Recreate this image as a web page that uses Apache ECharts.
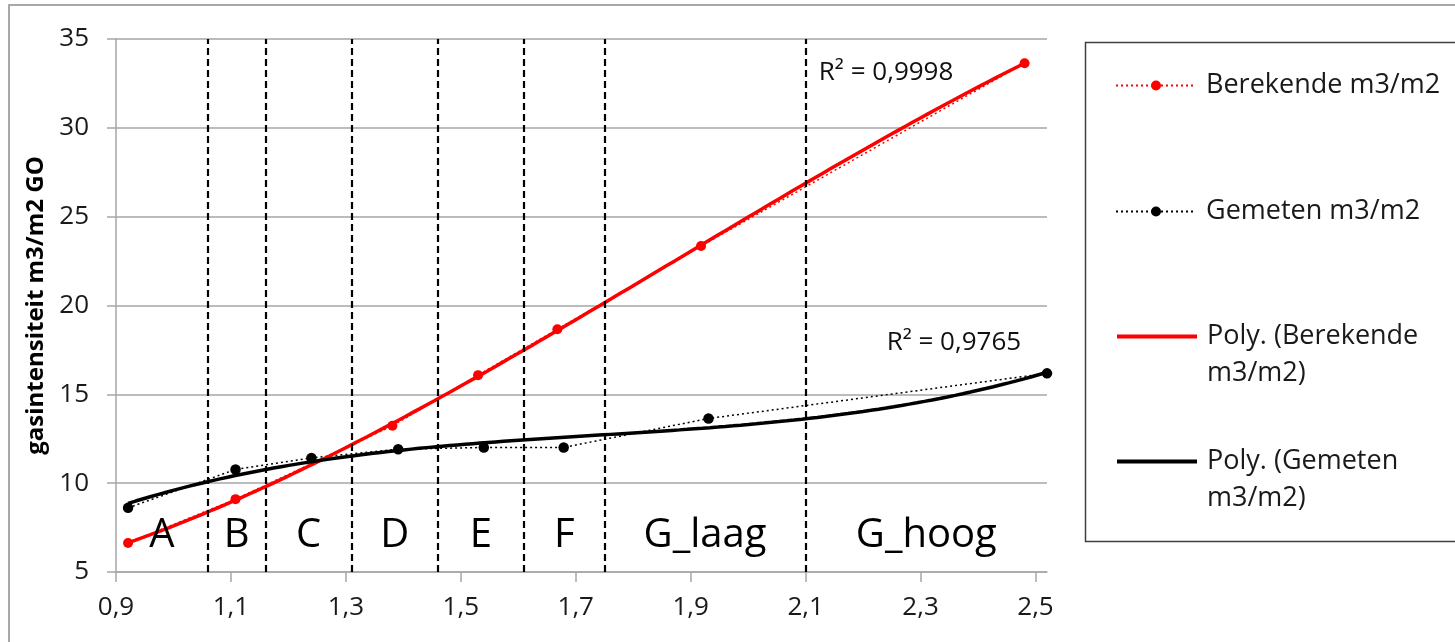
<!DOCTYPE html>
<html><head><meta charset="utf-8">
<script src="https://cdn.jsdelivr.net/npm/echarts@6/dist/echarts.min.js"></script>
<style>html,body{margin:0;padding:0;background:#fff}#c{width:1455px;height:642px}</style>
</head><body><div id="c"></div>
<script>
// ---- data ----
const berekendeX = [0.921, 1.108, 1.381, 1.530, 1.668, 1.918, 2.481];
const berekendeY = [6.63, 9.10, 13.23, 16.08, 18.66, 23.35, 33.64];
const gemetenX = [0.921, 1.108, 1.240, 1.391, 1.540, 1.679, 1.931, 2.520];
const gemetenY = [8.61, 10.77, 11.42, 11.91, 12.01, 12.01, 13.64, 16.18];
const zoneBounds = [1.06, 1.16, 1.31, 1.46, 1.61, 1.75, 2.10];
const zoneNames = ['A', 'B', 'C', 'D', 'E', 'F', 'G_laag', 'G_hoog'];
const xTicks = [0.9, 1.1, 1.3, 1.5, 1.7, 1.9, 2.1, 2.3, 2.5];
const r2Texts = ['R\u00b2 = 0,9998', 'R\u00b2 = 0,9765'];
const seriesNames = ['Berekende m3/m2', 'Gemeten m3/m2', 'Poly. (Berekende m3/m2)', 'Poly. (Gemeten m3/m2)'];
const yAxisTitle = 'gasintensiteit m3/m2 GO';
const xMin = 0.9, xMax = 2.52, yMin = 5, yMax = 35, yStep = 5;
const polyOrder = [3, 3];
// annotation anchors (data coordinates)
const r2AnchorX = [2.24, 2.358];
const r2AnchorY = [33.1, 17.89];
const zoneLabelY = 7.07;

// ---- polynomial trendline (least squares, like Excel "Poly.") ----
function polyfit(xs, ys, order) {
  const n = order + 1;
  const A = [], b = [];
  for (let i = 0; i < n; i++) {
    A.push([]);
    for (let j = 0; j < n; j++) {
      let s = 0; xs.forEach(x => s += Math.pow(x, i + j)); A[i].push(s);
    }
    let t = 0; xs.forEach((x, k) => t += Math.pow(x, i) * ys[k]); b.push(t);
  }
  for (let c = 0; c < n; c++) {
    let p = c;
    for (let r = c + 1; r < n; r++) if (Math.abs(A[r][c]) > Math.abs(A[p][c])) p = r;
    [A[c], A[p]] = [A[p], A[c]]; [b[c], b[p]] = [b[p], b[c]];
    for (let r = c + 1; r < n; r++) {
      const f = A[r][c] / A[c][c];
      for (let k = c; k < n; k++) A[r][k] -= f * A[c][k];
      b[r] -= f * b[c];
    }
  }
  const coef = new Array(n).fill(0);
  for (let r = n - 1; r >= 0; r--) {
    let s = b[r];
    for (let k = r + 1; k < n; k++) s -= A[r][k] * coef[k];
    coef[r] = s / A[r][r];
  }
  return coef;
}
function trend(xs, ys, order) {
  const c = polyfit(xs, ys, order);
  const x0 = Math.min(...xs), x1 = Math.max(...xs), out = [];
  for (let i = 0; i <= 120; i++) {
    const x = x0 + (x1 - x0) * i / 120;
    let y = 0; c.forEach((v, k) => y += v * Math.pow(x, k));
    out.push([x, y]);
  }
  return out;
}

const FONT = 'Open Sans';
const zip = (a, b) => a.map((v, i) => [v, b[i]]);
const allBounds = [xMin].concat(zoneBounds, [xMax]);
const zoneData = zoneNames.map((n, i) => ({ value: [(allBounds[i] + allBounds[i + 1]) / 2, zoneLabelY], name: n }));
const r2Data = r2Texts.map((t, i) => ({ value: [r2AnchorX[i], r2AnchorY[i]], name: t }));

const legendTops = [67, 193, 281, 406];
function makeLegend(n, i) {
  const lg = {
    orient: 'vertical', left: 1115, top: legendTops[i], padding: 0,
    itemWidth: 80, itemHeight: 12.5, itemGap: 0, selectedMode: false,
    textStyle: { fontFamily: FONT, fontSize: 27, lineHeight: 37, color: '#1a1a1a', padding: [0, 0, 0, 5] },
    data: [n]
  };
  if (i >= 2) {
    // trendline entries: first text line aligned with the icon (blank line above)
    lg.formatter = s => ' \n' + s.replace(' m3/m2)', '\nm3/m2)');
    lg.itemStyle = { opacity: 0 };
    lg.lineStyle = { width: 4 };
  }
  return lg;
}

const chart = echarts.init(document.getElementById('c'), null, { renderer: 'canvas' });
chart.setOption({
  animation: false,
  backgroundColor: '#fff',
  textStyle: { fontFamily: FONT },
  graphic: [
    { type: 'rect', shape: { x: 9, y: 5, width: 1500, height: 700 }, style: { fill: 'none', stroke: '#a8a8a8', lineWidth: 2 }, silent: true },
    { type: 'rect', shape: { x: 1085.5, y: 42.5, width: 400, height: 499 }, style: { fill: 'none', stroke: '#404040', lineWidth: 1.5 }, silent: true }
  ],
  legend: seriesNames.map(makeLegend),
  grid: { left: 116, top: 39, right: 408, bottom: 70, containLabel: false },
  xAxis: {
    type: 'value', min: xMin, max: xMax,
    axisLine: { show: true, lineStyle: { color: '#a6a6a6', width: 1.5 } },
    axisTick: { show: true, length: 10, customValues: xTicks, lineStyle: { color: '#a6a6a6', width: 1.5 } },
    axisLabel: { customValues: xTicks, margin: 23, fontFamily: FONT, fontSize: 26, color: '#1a1a1a',
      formatter: v => v.toFixed(1).replace('.', ',') },
    splitLine: { show: false }
  },
  yAxis: {
    type: 'value', min: yMin, max: yMax, interval: yStep,
    name: yAxisTitle, nameLocation: 'middle', nameGap: 68, nameRotate: 90,
    nameTextStyle: { fontFamily: FONT, fontSize: 24, fontWeight: 'bold', color: '#000' },
    axisLine: { show: true, lineStyle: { color: '#a6a6a6', width: 1.5 } },
    axisTick: { show: true, length: 9, lineStyle: { color: '#a6a6a6', width: 1.5 } },
    axisLabel: { margin: 27, fontFamily: FONT, fontSize: 26, color: '#1a1a1a' },
    splitLine: { show: true, lineStyle: { color: '#a6a6a6', width: 1.5 } }
  },
  series: [
    {
      name: seriesNames[0], type: 'line', data: zip(berekendeX, berekendeY),
      symbol: 'circle', symbolSize: 10, itemStyle: { color: '#ff0000' },
      lineStyle: { color: '#ff0000', width: 1.5, type: [2, 3] }, z: 3,
      markLine: {
        silent: true, symbol: ['none', 'none'], label: { show: false },
        lineStyle: { color: '#000', width: 2.2, type: [7, 4] },
        emphasis: { disabled: true },
        data: zoneBounds.map(v => ({ xAxis: v }))
      }
    },
    {
      name: seriesNames[1], type: 'line', data: zip(gemetenX, gemetenY),
      symbol: 'circle', symbolSize: 10.5, itemStyle: { color: '#000' },
      lineStyle: { color: '#000', width: 1.5, type: [2, 3] }, z: 3
    },
    {
      name: seriesNames[2], type: 'line', data: trend(berekendeX, berekendeY, polyOrder[0]),
      symbol: 'none', lineStyle: { color: '#ff0000', width: 3.5 }, itemStyle: { color: '#ff0000' }, z: 4
    },
    {
      name: seriesNames[3], type: 'line', data: trend(gemetenX, gemetenY, polyOrder[1]),
      symbol: 'none', lineStyle: { color: '#000', width: 3.5 }, itemStyle: { color: '#000' }, z: 4
    },
    {
      name: 'zones', type: 'scatter', data: zoneData, symbolSize: 0, z: 5,
      itemStyle: { color: '#000', opacity: 1 },
      label: { show: true, position: 'inside', formatter: p => p.name, fontFamily: FONT, fontSize: 40,
        color: '#000', textBorderWidth: 0 }
    },
    {
      name: 'r2', type: 'scatter', data: r2Data, symbolSize: 0, z: 5,
      itemStyle: { color: '#000', opacity: 1 },
      label: { show: true, position: 'inside', formatter: p => p.name, fontFamily: FONT, fontSize: 26,
        color: '#111', textBorderWidth: 0 }
    }
  ]
});
</script>
</body></html>
